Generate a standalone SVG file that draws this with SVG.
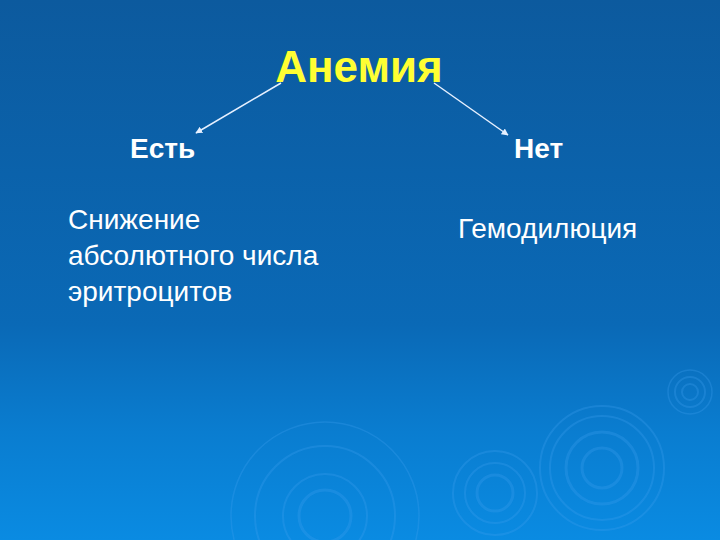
<svg xmlns="http://www.w3.org/2000/svg" width="720" height="540" viewBox="0 0 720 540">
<defs>
<linearGradient id="bg" x1="0" y1="0" x2="0" y2="1">
<stop offset="0" stop-color="#0C5A9E"/>
<stop offset="0.6" stop-color="#0A69B6"/>
<stop offset="0.8" stop-color="#0A7DD0"/>
<stop offset="1" stop-color="#0A8BE2"/>
</linearGradient>
<marker id="ah" viewBox="0 0 10 10" refX="9" refY="5" markerWidth="7" markerHeight="7" orient="auto" markerUnits="userSpaceOnUse">
<path d="M0,0 L10,5 L0,10 z" fill="#E6F0FF"/>
</marker>
<style>
.title{font-family:"Liberation Sans",Arial,sans-serif;font-weight:bold;font-size:44px;fill:#FFFF33}
.head{font-family:"Liberation Sans",Arial,sans-serif;font-weight:bold;font-size:28px;fill:#FFFFFF}
.body{font-family:"Liberation Sans",Arial,sans-serif;font-size:28px;fill:#FFFFFF}
.conn{stroke:#E6F0FF;stroke-width:1.5;fill:none}
.rip{fill:none;stroke:#3FA0F0;stroke-opacity:0.3}
</style>
</defs>
<rect width="720" height="540" fill="url(#bg)"/>
<g id="ripples">
<circle class="rip" cx="690" cy="392" r="8" stroke-width="2"/>
<circle class="rip" cx="690" cy="392" r="15" stroke-width="2"/>
<circle class="rip" cx="690" cy="392" r="22" stroke-width="1.5"/>
<circle class="rip" cx="602" cy="468" r="20" stroke-width="3"/>
<circle class="rip" cx="602" cy="468" r="36" stroke-width="3"/>
<circle class="rip" cx="602" cy="468" r="52" stroke-width="2"/>
<circle class="rip" cx="602" cy="468" r="62" stroke-width="2"/>
<circle class="rip" cx="495" cy="493" r="18" stroke-width="3"/>
<circle class="rip" cx="495" cy="493" r="30" stroke-width="2"/>
<circle class="rip" cx="495" cy="493" r="42" stroke-width="2"/>
<circle class="rip" cx="325" cy="516" r="26" stroke-width="3"/>
<circle class="rip" cx="325" cy="516" r="42" stroke-width="2"/>
<circle class="rip" cx="325" cy="516" r="70" stroke-width="2"/>
<circle class="rip" cx="325" cy="516" r="94" stroke-width="1.5"/>
</g>
<g id="connectors">
<line class="conn" x1="281" y1="83" x2="196" y2="133" marker-end="url(#ah)"/>
<line class="conn" x1="434" y1="83" x2="508" y2="135" marker-end="url(#ah)"/>
</g>
<g id="anemia"><text class="title" x="359" y="82" text-anchor="middle">Анемия</text></g>
<g id="est"><text class="head" x="130" y="158">Есть</text></g>
<g id="net"><text class="head" x="514" y="158">Нет</text></g>
<g id="decrease">
<text class="body" x="68" y="229">Снижение</text>
<text class="body" x="68" y="265">абсолютного числа</text>
<text class="body" x="68" y="301">эритроцитов</text>
</g>
<g id="hemodilution"><text class="body" x="458" y="238">Гемодилюция</text></g>
</svg>
